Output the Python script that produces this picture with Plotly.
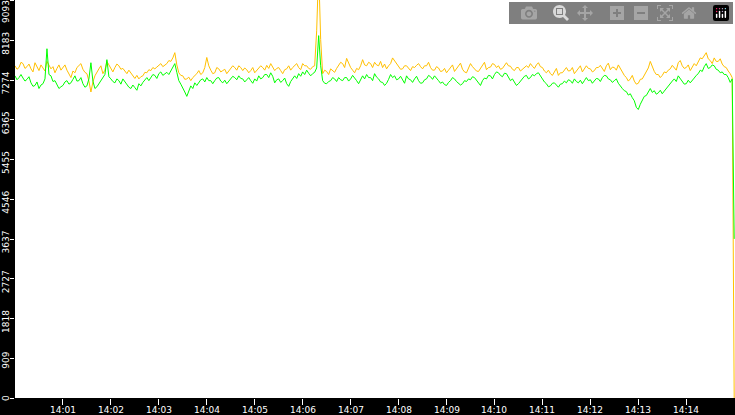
import pandas as pd
import plotly.graph_objects as go

start = "2024-01-01 14:00:00"
times = pd.date_range(start, periods=361, freq="2500ms")

yellow = [
    7600, 7520, 7560, 7680, 7650, 7540, 7580, 7640, 7530, 7460, 7670, 7590, 7490, 7620, 7560, 7480, 7700, 7610, 7530, 7580,
    7440, 7540, 7620, 7500, 7560, 7620, 7500, 7410, 7330, 7480, 7440, 7560, 7600, 7650, 7520, 7450, 7420, 7250, 7000, 7230,
    7370, 7460, 7530, 7600, 7420, 7500, 7700, 7620, 7530, 7460, 7560, 7640, 7600, 7520, 7540, 7470, 7420, 7500, 7440, 7360,
    7310, 7380, 7300, 7350, 7370, 7450, 7440, 7510, 7490, 7560, 7530, 7570, 7600, 7650, 7580, 7620, 7650, 7720, 7700, 7780,
    7900, 7620, 7440, 7380, 7370, 7290, 7300, 7340, 7260, 7330, 7370, 7420, 7490, 7400, 7440, 7560, 7790, 7600, 7500, 7420,
    7440, 7560, 7530, 7460, 7490, 7520, 7420, 7480, 7530, 7600, 7560, 7500, 7600, 7560, 7490, 7550, 7510, 7440, 7490, 7560,
    7440, 7490, 7530, 7600, 7560, 7500, 7610, 7540, 7650, 7580, 7490, 7540, 7560, 7490, 7420, 7510, 7530, 7600, 7500, 7560,
    7600, 7650, 7560, 7510, 7650, 7600, 7600, 7540, 7520, 7580, 7600, 8400, 9800, 8200, 7420, 7500, 7470, 7400, 7530, 7480,
    7450, 7540, 7600, 7680, 7650, 7560, 7770, 7640, 7560, 7500, 7440, 7540, 7510, 7600, 7740, 7620, 7600, 7680, 7650, 7560,
    7680, 7620, 7600, 7700, 7560, 7640, 7530, 7600, 7650, 7780, 7720, 7640, 7600, 7520, 7530, 7600, 7600, 7540, 7490, 7580,
    7560, 7610, 7650, 7580, 7530, 7600, 7600, 7680, 7560, 7500, 7500, 7580, 7550, 7470, 7480, 7540, 7440, 7500, 7560, 7620,
    7470, 7540, 7600, 7660, 7520, 7460, 7440, 7560, 7650, 7580, 7540, 7480, 7470, 7540, 7600, 7680, 7510, 7560, 7570, 7650,
    7630, 7560, 7600, 7520, 7540, 7620, 7670, 7600, 7590, 7520, 7490, 7560, 7560, 7480, 7520, 7580, 7600, 7560, 7650, 7590,
    7540, 7620, 7670, 7580, 7560, 7480, 7440, 7500, 7420, 7380, 7470, 7540, 7380, 7440, 7440, 7500, 7560, 7480, 7490, 7560,
    7420, 7480, 7540, 7600, 7460, 7530, 7600, 7540, 7530, 7460, 7490, 7560, 7560, 7610, 7530, 7470, 7600, 7660, 7510, 7570,
    7560, 7500, 7620, 7540, 7440, 7380, 7330, 7250, 7300, 7380, 7250, 7180, 7200, 7290, 7300, 7380, 7440, 7550, 7700, 7580,
    7470, 7400, 7400, 7330, 7380, 7460, 7440, 7500, 7530, 7610, 7560, 7500, 7670, 7720, 7600, 7540, 7560, 7620, 7490, 7560,
    7650, 7600, 7700, 7780, 7760, 7830, 7900, 7760, 7720, 7650, 7780, 7700, 7700, 7760, 7640, 7580, 7560, 7480, 7420, 7330,
    0,
]

green = [
    7370, 7280, 7330, 7400, 7320, 7250, 7290, 7350, 7210, 7130, 7150, 7230, 7080, 7160, 7190, 7300, 7990, 7400, 7370, 7240,
    7260, 7150, 7080, 7120, 7150, 7230, 7260, 7180, 7210, 7290, 7370, 7250, 7260, 7330, 7190, 7110, 7140, 7300, 7670, 7250,
    7080, 7120, 7190, 7260, 7300, 7400, 7740, 7350, 7300, 7240, 7210, 7300, 7260, 7180, 7300, 7230, 7190, 7110, 7080, 7160,
    7100, 7040, 7190, 7140, 7220, 7290, 7330, 7260, 7330, 7400, 7380, 7310, 7420, 7460, 7380, 7420, 7450, 7400, 7480, 7550,
    7650, 7450, 7260, 7180, 7100, 7000, 6900, 7030, 7140, 7080, 7210, 7150, 7210, 7280, 7300, 7230, 7330, 7260, 7260, 7190,
    7260, 7320, 7330, 7250, 7210, 7270, 7190, 7240, 7300, 7360, 7330, 7280, 7370, 7310, 7300, 7230, 7280, 7330, 7260, 7200,
    7300, 7250, 7370, 7300, 7330, 7400, 7400, 7330, 7440, 7360, 7210, 7280, 7300, 7220, 7260, 7320, 7190, 7130, 7240, 7300,
    7370, 7310, 7420, 7360, 7460, 7400, 7500, 7430, 7370, 7420, 7450, 7550, 8290, 7600, 7260, 7200, 7190, 7240, 7260, 7330,
    7300, 7240, 7330, 7280, 7260, 7330, 7330, 7250, 7300, 7380, 7330, 7260, 7190, 7270, 7370, 7300, 7400, 7330, 7330, 7260,
    7420, 7340, 7300, 7230, 7220, 7150, 7200, 7290, 7400, 7330, 7370, 7280, 7300, 7360, 7260, 7200, 7370, 7300, 7280, 7220,
    7300, 7360, 7260, 7200, 7210, 7280, 7300, 7380, 7350, 7290, 7370, 7300, 7260, 7200, 7230, 7170, 7150, 7220, 7260, 7330,
    7300, 7240, 7210, 7160, 7190, 7260, 7240, 7300, 7280, 7350, 7330, 7270, 7210, 7150, 7260, 7320, 7300, 7380, 7370, 7300,
    7400, 7460, 7440, 7380, 7350, 7430, 7420, 7330, 7260, 7300, 7210, 7150, 7190, 7250, 7300, 7360, 7380, 7300, 7330, 7400,
    7370, 7420, 7440, 7360, 7300, 7230, 7190, 7120, 7140, 7200, 7210, 7150, 7110, 7180, 7190, 7250, 7210, 7280, 7260, 7200,
    7300, 7240, 7210, 7270, 7190, 7260, 7330, 7260, 7280, 7200, 7260, 7310, 7300, 7240, 7330, 7380, 7370, 7300, 7280, 7220,
    7260, 7300, 7200, 7130, 7080, 7030, 7010, 6930, 6960, 6870, 6800, 6650, 6600, 6720, 6800, 6900, 6920, 7010, 7080, 6990,
    7030, 6950, 6980, 7040, 6960, 7020, 7080, 7150, 7190, 7250, 7300, 7240, 7370, 7300, 7260, 7180, 7190, 7270, 7210, 7280,
    7320, 7380, 7420, 7500, 7470, 7580, 7650, 7540, 7560, 7620, 7600, 7520, 7500, 7440, 7460, 7400, 7400, 7330, 7220, 7300,
    3640,
]

y_ticks = [0, 909.3, 1818.6, 2727.9, 3637.2, 4546.5, 5455.8, 6365.1, 7274.4, 8183.7, 9093]
y_labels = ["0", "909", "1818", "2727", "3637", "4546", "5455", "6365", "7274", "8183", "9093"]

x_tick_labels = ["14:01", "14:02", "14:03", "14:04", "14:05", "14:06", "14:07",
                 "14:08", "14:09", "14:10", "14:11", "14:12", "14:13", "14:14"]
x_tick_vals = [pd.Timestamp("2024-01-01 " + t + ":00") for t in x_tick_labels]

FONT = "DejaVu Sans"
tick_font = dict(family=FONT, size=9, color="white")

fig = go.Figure()
fig.add_trace(go.Scatter(x=times, y=yellow, mode="lines",
                         line=dict(color="#FFC000", width=1), hoverinfo="skip"))
fig.add_trace(go.Scatter(x=times, y=green, mode="lines",
                         line=dict(color="#00FF00", width=1), hoverinfo="skip"))

fig.update_layout(
    width=735, height=415,
    margin=dict(l=15, r=0, t=0, b=17, pad=0),
    paper_bgcolor="black", plot_bgcolor="white",
    showlegend=False,
    font=tick_font,
)
fig.update_xaxes(
    range=[pd.Timestamp("2024-01-01 14:00:00"), pd.Timestamp("2024-01-01 14:15:01")],
    tickvals=x_tick_vals, showticklabels=False,
    ticks="outside", ticklen=6, tickcolor="white", tickwidth=1,
    showgrid=False, zeroline=False, showline=False,
)
fig.update_yaxes(
    range=[0, 9105],
    tickvals=y_ticks, showticklabels=False,
    ticks="outside", ticklen=4, tickcolor="white", tickwidth=1,
    showgrid=False, zeroline=False, showline=False,
)

# x tick labels: bottom edge kept inside the window, under the tick marks
for tv, tl in zip(x_tick_vals, x_tick_labels):
    fig.add_annotation(x=tv, xref="x", y=0, yref="paper", text=tl,
                       showarrow=False, xanchor="center", yanchor="bottom",
                       yshift=-16.5, font=tick_font, borderpad=0, borderwidth=0)

# rotated y tick labels: text ends a little above each tick
for i, (tv, tl) in enumerate(zip(y_ticks, y_labels)):
    if i == len(y_ticks) - 1:
        ys = -11.5
    elif len(tl) == 1:
        ys = 0
    elif len(tl) == 3:
        ys = -2.5
    else:
        ys = -3.5
    fig.add_annotation(x=0, xref="paper", y=tv, yref="y", text=tl,
                       textangle=-90, showarrow=False,
                       xanchor="right", yanchor="middle",
                       xshift=-4, yshift=ys,
                       font=tick_font, borderpad=0, borderwidth=0)

# remove the page's default body margin so the figure fills the window exactly
fig.write_html(
    "out.html",
    post_script="document.body.style.margin='0';document.body.style.padding='0';"
                "document.body.style.background='black';",
)
